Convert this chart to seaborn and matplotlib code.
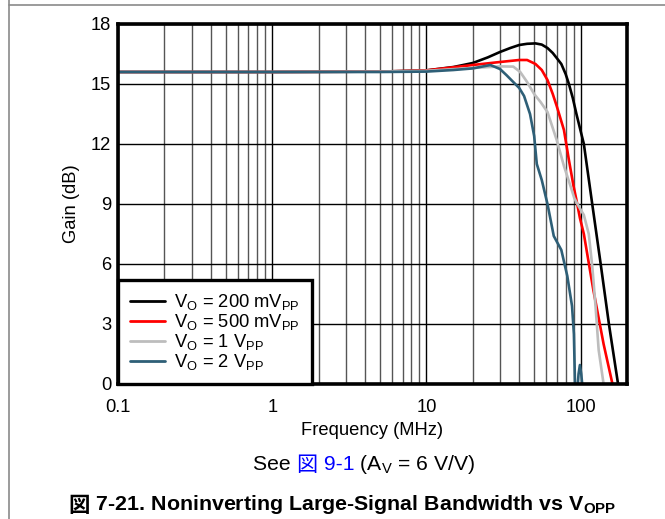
import numpy as np
import pandas as pd
import matplotlib
matplotlib.use("Agg")
import matplotlib.pyplot as plt
from matplotlib.lines import Line2D
from matplotlib.ticker import FixedLocator, FixedFormatter, NullFormatter, LogLocator
import seaborn as sns

# ---------------- data ----------------
labels = [r"V$_\mathregular{O}$ = 200 mV$_\mathregular{PP}$",
          r"V$_\mathregular{O}$ = 500 mV$_\mathregular{PP}$",
          r"V$_\mathregular{O}$ = 1 V$_\mathregular{PP}$",
          r"V$_\mathregular{O}$ = 2 V$_\mathregular{PP}$"]
colors = ["#000000", "#ff0000", "#bdbdbd", "#2e5f77"]

f_200m = [0.1, 1, 5, 10, 15, 20, 25, 30, 35, 40, 45, 51, 56, 61, 66, 70, 75, 80, 84, 89, 94,
          105, 119, 135, 153, 175, 185]
g_200m = [15.6, 15.6, 15.62, 15.68, 15.85, 16.05, 16.33, 16.6, 16.8, 16.95, 17.01, 17.03, 16.97,
          16.8, 16.55, 16.3, 16.0, 15.5, 15.0, 14.3, 13.5, 12.0, 9.0, 6.0, 2.95, 0.0, -1.0]

f_500m = [0.1, 1, 5, 10, 20, 30, 40, 45, 51, 56, 61, 66, 70, 78, 84, 90, 94, 99, 105, 121, 141,
          161, 170]
g_500m = [15.6, 15.6, 15.62, 15.68, 15.95, 16.1, 16.2, 16.2, 16.0, 15.7, 15.2, 14.5, 13.9, 12.7,
          11.2, 9.9, 9.2, 8.3, 7.5, 4.7, 2.0, 0.0, -1.0]

f_1v = [0.1, 1, 5, 10, 20, 30, 36.6, 40.6, 45, 50, 55, 61, 70, 78, 86, 91, 97, 105, 113, 119, 125,
        131, 141, 150]
g_1v = [15.6, 15.6, 15.62, 15.66, 15.8, 15.88, 15.87, 15.6, 15.1, 14.5, 14.1, 13.6, 12.2, 10.9,
        9.9, 9.3, 8.9, 8.45, 7.5, 5.9, 3.9, 1.7, 0.0, -1.0]

f_2v = [0.1, 1, 5, 10, 15, 20, 26, 30, 33, 36.6, 40, 43, 47, 50, 52, 56, 61, 67, 75, 82, 88, 90.5,
        92, 95, 97, 99, 101, 103, 105]
g_2v = [15.6, 15.6, 15.6, 15.62, 15.7, 15.78, 15.95, 15.75, 15.45, 15.1, 14.8, 14.4, 13.5, 12.4,
        11.0, 10.2, 9.0, 7.4, 6.7, 5.4, 3.9, 2.5, 0.0, -0.5, 0.5, 0.95, 0.5, -0.2, -1.0]

x_ticks = [0.1, 1, 10, 100]
x_ticklabels = ["0.1", "1", "10", "100"]
y_ticks = [0, 3, 6, 9, 12, 15, 18]

# ---------------- style ----------------
sns.set_style("white")
plt.rcParams["font.family"] = ["Liberation Sans", "Noto Sans CJK JP", "DejaVu Sans"]
plt.rcParams["mathtext.fontset"] = "custom"
plt.rcParams["mathtext.rm"] = "Liberation Sans"
plt.rcParams["mathtext.it"] = "Liberation Sans:italic"
plt.rcParams["mathtext.bf"] = "Liberation Sans:bold"
plt.rcParams["text.color"] = "black"
plt.rcParams["axes.labelcolor"] = "black"
plt.rcParams["xtick.color"] = "black"
plt.rcParams["ytick.color"] = "black"
FS = 13.2

frames = []
for lab, f, g in zip(labels, [f_200m, f_500m, f_1v, f_2v], [g_200m, g_500m, g_1v, g_2v]):
    frames.append(pd.DataFrame({"Frequency": f, "Gain": g, "Series": lab}))
df = pd.concat(frames, ignore_index=True)

fig = plt.figure(figsize=(6.65, 5.19), dpi=100)
ax = fig.add_axes([118 / 665, 1 - 384 / 519, 509 / 665, 360 / 519])

sns.lineplot(data=df, x="Frequency", y="Gain", hue="Series", hue_order=labels,
             palette=dict(zip(labels, colors)), estimator=None, sort=False,
             linewidth=1.9, ax=ax, legend=True)

ax.set_xscale("log")
ax.set_xlim(0.1, 200)
ax.set_ylim(0, 18)
ax.xaxis.set_major_locator(FixedLocator(x_ticks))
ax.xaxis.set_major_formatter(FixedFormatter(x_ticklabels))
ax.xaxis.set_minor_locator(LogLocator(base=10, subs=np.arange(2, 10)))
ax.xaxis.set_minor_formatter(NullFormatter())
ax.set_yticks(y_ticks)
ax.set_yticklabels([str(v) for v in y_ticks])
ax.tick_params(which="both", length=0, labelsize=FS, colors="black")
ax.tick_params(axis="y", pad=5)
ax.tick_params(axis="x", pad=11)

ax.set_axisbelow(True)
ax.grid(which="major", axis="both", color="black", linewidth=1.0)
ax.grid(which="minor", axis="x", color="#555555", linewidth=1.0)
for sp in ax.spines.values():
    sp.set_visible(True)
    sp.set_color("black")
    sp.set_linewidth(2.6)

ax.set_xlabel("Frequency (MHz)", fontsize=FS, labelpad=4, color="black")
ax.set_ylabel("Gain (dB)", fontsize=FS, labelpad=8, color="black")

handles, labs = ax.get_legend_handles_labels()
leg = ax.legend(handles, labs, loc="lower left", bbox_to_anchor=(0, 0), borderaxespad=0,
                fontsize=FS, frameon=True, fancybox=False, framealpha=1, edgecolor="black",
                handlelength=1.9, handletextpad=0.5, labelspacing=0.0, borderpad=0.65)
leg.get_frame().set_linewidth(2.4)
for h in leg.get_lines():
    h.set_linewidth(2.0)
for t in leg.get_texts():
    t.set_color("black")

# ---------------- page frame ----------------
fig.add_artist(Line2D([8.5 / 665, 8.5 / 665], [0, 1], transform=fig.transFigure,
                      color="#8a8a8a", linewidth=1.2))
fig.add_artist(Line2D([8.5 / 665, 1], [1 - 5 / 519, 1 - 5 / 519], transform=fig.transFigure,
                      color="#8a8a8a", linewidth=1.2))

# ---------------- captions ----------------
renderer = fig.canvas.get_renderer()


def place_pieces(pieces, y_px, cx_px, fontsize, weight="normal"):
    texts = []
    for s, c, fam in pieces:
        t = fig.text(0, 1 - y_px / 519, s, color=c, va="center", ha="left",
                     fontsize=fontsize, fontweight=weight, family=fam)
        texts.append(t)
    widths = [t.get_window_extent(renderer).width for t in texts]
    total = sum(widths)
    x = cx_px - total / 2
    for t, w in zip(texts, widths):
        t.set_x(x / 665)
        x += w


LAT = ["Liberation Sans", "DejaVu Sans"]
CJK = ["Noto Sans CJK JP", "DejaVu Sans"]
place_pieces([("See ", "black", LAT), ("図", "#0000ff", CJK), (" 9-1", "#0000ff", LAT),
              (r" (A$_\mathregular{V}$ = 6 V/V)", "black", LAT)],
             465, 364, 15.2)
place_pieces([("図", "black", CJK),
              (r" 7-21. Noninverting Large-Signal Bandwidth vs V$_\mathbf{OPP}$", "black", LAT)],
             505, 342, 15.4, weight="bold")

fig.savefig("out.png", dpi=100)
